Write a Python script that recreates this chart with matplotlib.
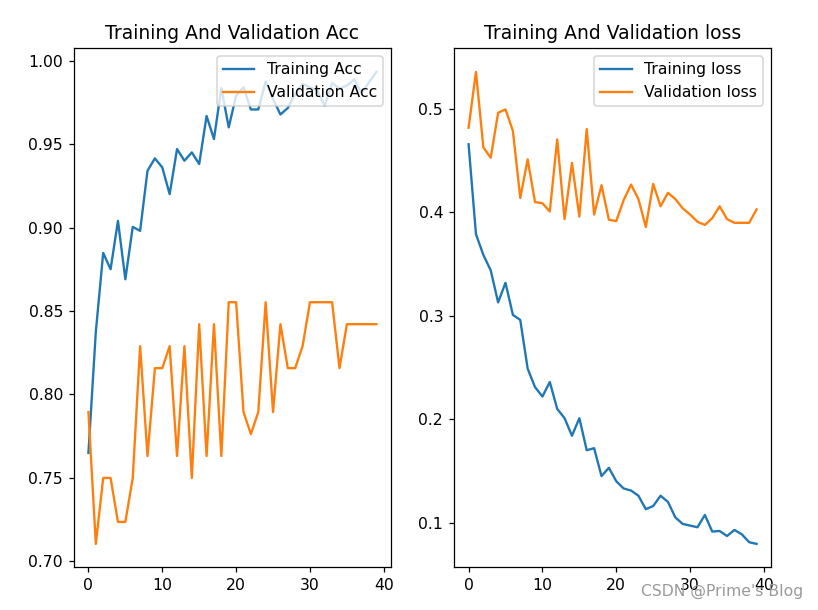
from matplotlib import pyplot as plt

# accuracy / loss per epoch, read from the training history
train_acc = [0.765, 0.8375, 0.8848, 0.875, 0.904, 0.869, 0.9004, 0.898, 0.934, 0.9414,
             0.936, 0.920, 0.947, 0.940, 0.945, 0.938, 0.9668, 0.953, 0.9835, 0.960,
             0.979, 0.984, 0.9707, 0.9707, 0.9875, 0.977, 0.9677, 0.9716, 0.980, 0.986,
             0.984, 0.982, 0.973, 0.9866, 0.9832, 0.985, 0.9886, 0.9806, 0.987, 0.9932]
val_acc = [60/76, 54/76, 57/76, 57/76, 55/76, 55/76, 57/76, 63/76, 58/76, 62/76,
           62/76, 63/76, 58/76, 63/76, 57/76, 64/76, 58/76, 64/76, 58/76, 65/76,
           65/76, 60/76, 59/76, 60/76, 65/76, 60/76, 64/76, 62/76, 62/76, 63/76,
           65/76, 65/76, 65/76, 65/76, 62/76, 64/76, 64/76, 64/76, 64/76, 64/76]
train_loss = [0.466, 0.379, 0.359, 0.344, 0.313, 0.332, 0.301, 0.296, 0.249, 0.231,
              0.222, 0.236, 0.210, 0.201, 0.184, 0.201, 0.170, 0.172, 0.145, 0.153,
              0.140, 0.133, 0.131, 0.126, 0.113, 0.116, 0.126, 0.120, 0.105, 0.0987,
              0.0971, 0.0955, 0.1074, 0.0913, 0.0919, 0.087, 0.0929, 0.0887, 0.081, 0.0794]
val_loss = [0.482, 0.536, 0.463, 0.453, 0.4965, 0.4997, 0.479, 0.414, 0.4514, 0.410,
            0.409, 0.401, 0.4707, 0.3936, 0.448, 0.396, 0.4807, 0.398, 0.4264, 0.393,
            0.3916, 0.412, 0.427, 0.413, 0.386, 0.4277, 0.406, 0.419, 0.413, 0.404,
            0.398, 0.391, 0.388, 0.3945, 0.406, 0.3936, 0.390, 0.390, 0.390, 0.403]
epochs = list(range(len(train_acc)))

dpi = 112.5
fig = plt.figure(figsize=(818 / dpi, 610 / dpi), dpi=dpi)
plt.subplots_adjust(left=0.0905, right=0.9425, top=0.9208, bottom=0.0697, wspace=0.2)

# left: accuracy
plt.subplot(1, 2, 1)
plt.plot(epochs, train_acc, label='Training Acc')
plt.plot(epochs, val_acc, label='Validation Acc')
plt.legend(loc='upper right')
plt.title('Training And Validation Acc')

# right: loss
plt.subplot(1, 2, 2)
plt.plot(epochs, train_loss, label='Training loss')
plt.plot(epochs, val_loss, label='Validation loss')
plt.legend(loc='upper right')
plt.title('Training And Validation loss')

# watermark (sits over the tick labels in the original too)
fig.text(0.982, 0.018, "CSDN @Prime's Blog", ha='right', va='bottom',
         color='#9a9a9a', fontsize=10)

plt.savefig('out.png')
